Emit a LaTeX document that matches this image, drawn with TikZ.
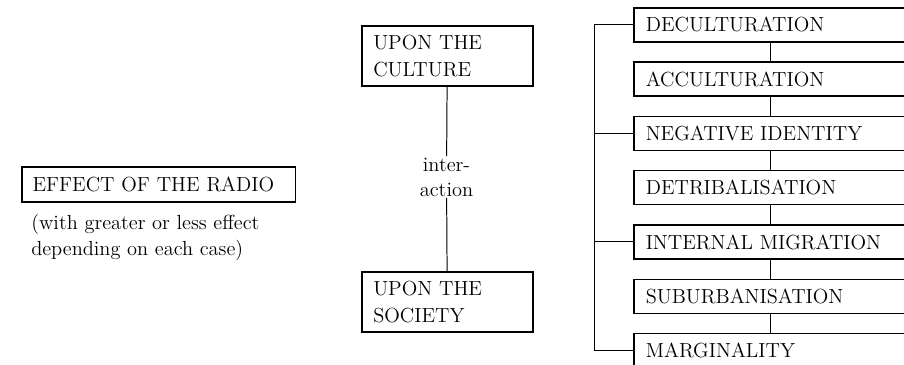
\documentclass[tikz,border=0pt]{standalone}
\begin{document}
\begin{tikzpicture}[x=0.025cm,y=-0.025cm,
		font=\fontsize{14.5}{19}\selectfont,
		box/.style={draw,line width=1.1pt,anchor=north west,align=left,inner xsep=0.27cm,inner ysep=0pt},
		link/.style={line width=0.7pt}]
		\useasboundingbox (0,0) rectangle (904,364);
		\clip (0,0) rectangle (904,364);

		\node[box,minimum width=6.825cm,minimum height=0.875cm,text width=6.3cm] (radio) at (21,166) {EFFECT OF THE RADIO};
		\node[anchor=north west,align=left,inner sep=0pt,font=\fontsize{14.5}{19}\selectfont] (note) at (31,213.5) {(with greater or less effect\\depending on each case)};

		\node[box,minimum width=4.275cm,minimum height=1.5cm,text width=3.7cm] (culture) at (361,25) {UPON THE\\CULTURE};
		\node[box,minimum width=4.275cm,minimum height=1.5cm,text width=3.7cm] (society) at (361,271) {UPON THE\\SOCIETY};
		\node[align=center,inner sep=1pt,font=\fontsize{14.5}{17.7}\selectfont] (inter) at (446.5,177) {inter-\\action};
		\draw[link] (culture) -- (inter) -- (society);

		\foreach \lbl [count=\i] in {DECULTURATION,ACCULTURATION,NEGATIVE IDENTITY,DETRIBALISATION,INTERNAL MIGRATION,SUBURBANISATION,MARGINALITY} {
				\node[box,minimum width=8cm,minimum height=0.85cm,text width=7.4cm] (d\i) at (633,{7+54.3*(\i-1)}) {\lbl};
			}
		\coordinate (mid) at (770,0);
		\foreach \i [count=\j from 2] in {1,...,6} {
				\draw[link] (d\i.south -| mid) -- (d\j.north -| mid);
			}
		\coordinate (brk) at (594,0);
		\draw[link] (d1.west) -- (d1.west -| brk) -- (d7.west -| brk) -- (d7.west);
		\foreach \i in {3,5} {
				\draw[link] (d\i.west) -- (d\i.west -| brk);
			}
	\end{tikzpicture}
\end{document}
